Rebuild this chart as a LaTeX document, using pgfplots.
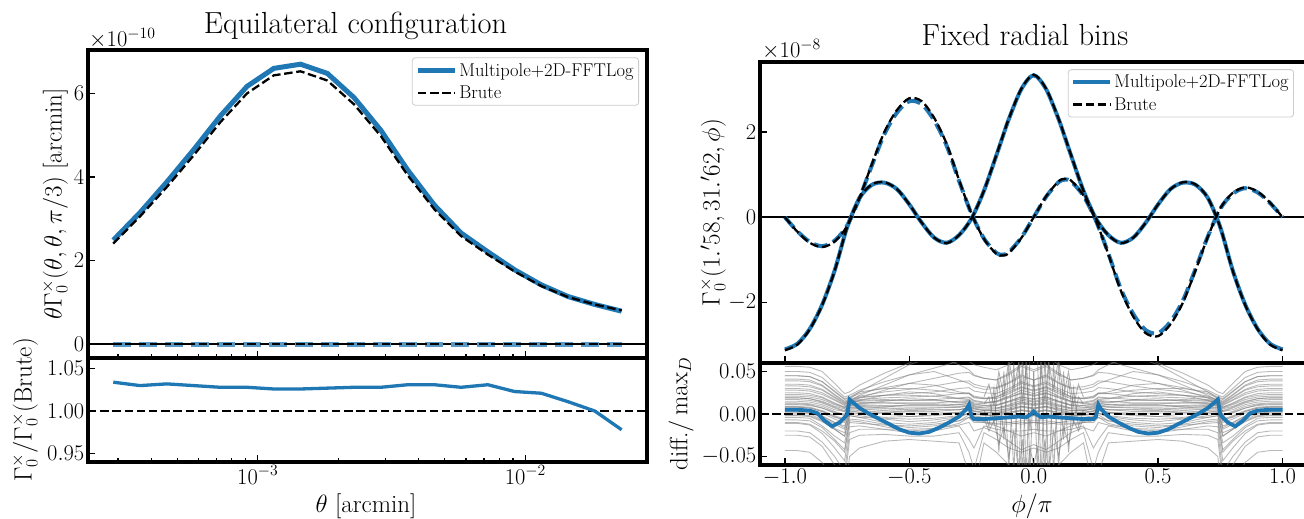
\RequirePackage{fix-cm}
\documentclass[border=0pt]{standalone}
\usepackage{pgfplots}
\usepackage{pgfplotstable}
\pgfplotsset{compat=1.18}
\definecolor{cB}{HTML}{1F77B4}
\newcommand{\tk}{\fontsize{22.5}{26}\selectfont}
\newcommand{\lb}{\fontsize{25}{29}\selectfont}
\newcommand{\ttl}{\fontsize{30.5}{35}\selectfont}
\newcommand{\legfont}{\fontsize{18.5}{22}\selectfont}

% equilateral configuration (values in units of 1e-10)
\pgfplotstableread{
x m b r
2.884e-4 2.49 2.408 1.034
3.631e-4 3.15 3.058 1.030
4.571e-4 3.88 3.760 1.032
5.754e-4 4.65 4.515 1.030
7.244e-4 5.46 5.311 1.028
9.120e-4 6.17 6.002 1.028
1.148e-3 6.60 6.433 1.026
1.445e-3 6.70 6.530 1.026
1.820e-3 6.48 6.310 1.027
2.291e-3 5.90 5.739 1.028
2.884e-3 5.12 4.981 1.028
3.631e-3 4.17 4.045 1.031
4.571e-3 3.33 3.230 1.031
5.754e-3 2.66 2.588 1.028
7.244e-3 2.21 2.144 1.031
9.120e-3 1.78 1.740 1.023
1.148e-2 1.42 1.391 1.021
1.445e-2 1.14 1.128 1.011
1.820e-2 0.95 0.950 1.000
2.291e-2 0.79 0.808 0.978
}\eqdata

% fixed radial bins (values in units of 1e-8)
\pgfplotstableread{
phi re reb im imb
-1.00 -3.10 -3.12 0.00 0.00
-0.95 -2.97 -2.99 -0.33 -0.34
-0.90 -2.62 -2.63 -0.58 -0.60
-0.85 -2.05 -2.06 -0.68 -0.70
-0.80 -1.25 -1.26 -0.55 -0.57
-0.75 -0.24 -0.24 -0.20 -0.21
-0.70 0.45 0.45 0.45 0.46
-0.65 0.76 0.77 1.22 1.25
-0.60 0.81 0.82 1.95 2.00
-0.55 0.66 0.66 2.45 2.51
-0.50 0.30 0.30 2.72 2.79
-0.45 -0.13 -0.13 2.65 2.72
-0.40 -0.48 -0.48 2.27 2.33
-0.35 -0.60 -0.61 1.68 1.72
-0.30 -0.42 -0.42 0.85 0.87
-0.25 -0.03 -0.03 0.08 0.08
-0.20 0.62 0.62 -0.50 -0.51
-0.15 1.45 1.46 -0.84 -0.86
-0.125 1.88 1.89 -0.88 -0.90
-0.10 2.30 2.31 -0.82 -0.84
-0.05 3.00 3.01 -0.48 -0.49
0.00 3.33 3.34 0.00 0.00
0.05 3.00 3.01 0.48 0.49
0.10 2.30 2.31 0.82 0.84
0.125 1.88 1.89 0.88 0.90
0.15 1.45 1.46 0.84 0.86
0.20 0.62 0.62 0.50 0.51
0.25 -0.03 -0.03 -0.08 -0.08
0.30 -0.42 -0.42 -0.85 -0.87
0.35 -0.60 -0.61 -1.68 -1.72
0.40 -0.48 -0.48 -2.27 -2.33
0.45 -0.13 -0.13 -2.65 -2.72
0.50 0.30 0.30 -2.72 -2.79
0.55 0.66 0.66 -2.45 -2.51
0.60 0.81 0.82 -1.95 -2.00
0.65 0.76 0.77 -1.22 -1.25
0.70 0.45 0.45 -0.45 -0.46
0.75 -0.24 -0.24 0.20 0.21
0.80 -1.25 -1.26 0.55 0.57
0.85 -2.05 -2.06 0.68 0.70
0.90 -2.62 -2.63 0.58 0.60
0.95 -2.97 -2.99 0.33 0.34
1.00 -3.10 -3.12 0.00 0.00
}\rbdata

\pgfplotstableread{
phi d
-1.00 0.005
-0.95 0.005
-0.90 0.004
-0.87 0.001
-0.84 -0.008
-0.81 -0.0145
-0.78 -0.010
-0.76 -0.004
-0.75 -0.001
-0.74 0.017
-0.72 0.012
-0.70 0.007
-0.66 0.000
-0.62 -0.006
-0.58 -0.012
-0.54 -0.018
-0.50 -0.022
-0.46 -0.023
-0.42 -0.021
-0.38 -0.016
-0.34 -0.010
-0.30 -0.003
-0.27 0.006
-0.26 0.011
-0.25 -0.003
-0.24 -0.006
-0.20 -0.006
-0.15 -0.005
-0.10 -0.004
-0.06 -0.003
-0.03 -0.004
-0.01 0.000
0.00 0.003
0.01 0.000
0.03 -0.004
0.06 -0.003
0.10 -0.004
0.15 -0.005
0.20 -0.006
0.24 -0.006
0.25 -0.003
0.26 0.011
0.27 0.006
0.30 -0.003
0.34 -0.010
0.38 -0.016
0.42 -0.021
0.46 -0.023
0.50 -0.022
0.54 -0.018
0.58 -0.012
0.62 -0.006
0.66 0.000
0.70 0.007
0.72 0.012
0.74 0.017
0.75 -0.001
0.76 -0.004
0.78 -0.010
0.81 -0.0145
0.84 -0.008
0.87 0.001
0.90 0.004
0.95 0.005
1.00 0.005
}\dfdata

% individual bins, half range (mirrored when plotted)
\pgfplotstableread{
phi g1 g2 g3 g4 g5 g6 g7 g8 g9 g10 g11 g12 g13 g14 g15 g16 g17
-1.00 0.056 0.050 0.045 0.039 0.033 0.028 0.023 0.019 0.015 0.011 0.008 0.004 0.001 -0.004 -0.011 -0.025 -0.043
-0.95 0.056 0.050 0.045 0.039 0.033 0.028 0.023 0.019 0.015 0.011 0.008 0.004 0.001 -0.004 -0.011 -0.025 -0.043
-0.90 0.055 0.049 0.044 0.038 0.032 0.027 0.022 0.018 0.014 0.010 0.007 0.003 0.000 -0.005 -0.013 -0.027 -0.045
-0.85 0.050 0.043 0.038 0.033 0.028 0.023 0.019 0.015 0.011 0.007 0.003 -0.002 -0.007 -0.014 -0.023 -0.038 -0.057
-0.80 0.036 0.030 0.026 0.022 0.019 0.016 0.012 0.009 0.005 0.001 -0.004 -0.010 -0.017 -0.026 -0.040 -0.060 -0.080
-0.76 0.024 0.020 0.017 0.014 0.012 0.010 0.008 0.006 0.003 0.000 -0.006 -0.014 -0.022 -0.034 -0.055 -0.080 -0.100
-0.74 0.026 0.022 0.019 0.017 0.015 0.014 0.013 0.012 0.011 0.010 0.008 0.004 0.000 -0.006 -0.015 -0.030 -0.050
-0.70 0.034 0.028 0.024 0.021 0.019 0.017 0.015 0.013 0.011 0.009 0.006 0.002 -0.002 -0.007 -0.014 -0.025 -0.040
-0.60 0.048 0.038 0.031 0.026 0.022 0.019 0.016 0.013 0.010 0.007 0.004 0.000 -0.006 -0.012 -0.018 -0.024 -0.032
-0.50 0.060 0.046 0.036 0.029 0.024 0.020 0.016 0.013 0.010 0.006 0.003 -0.003 -0.009 -0.016 -0.022 -0.026 -0.030
-0.40 0.072 0.054 0.042 0.033 0.026 0.021 0.017 0.013 0.010 0.007 0.003 -0.002 -0.007 -0.014 -0.020 -0.026 -0.032
-0.30 0.085 0.062 0.048 0.038 0.030 0.024 0.019 0.015 0.011 0.008 0.005 0.001 -0.003 -0.008 -0.014 -0.022 -0.034
-0.26 0.082 0.062 0.049 0.039 0.031 0.025 0.020 0.016 0.013 0.010 0.007 0.004 0.001 -0.001 -0.030 -0.045 -0.070
-0.24 0.078 0.058 0.045 0.035 0.027 0.021 0.016 0.012 0.009 0.006 0.003 0.000 -0.003 -0.006 -0.040 -0.065 -0.090
-0.20 0.074 0.055 0.042 0.032 0.025 0.019 0.014 0.010 0.007 0.004 0.001 -0.002 -0.005 -0.009 -0.014 -0.022 -0.034
-0.15 0.070 0.052 0.040 0.031 0.024 0.018 0.014 0.010 0.007 0.004 0.001 -0.002 -0.006 -0.011 -0.018 -0.030 -0.045
-0.10 0.075 0.058 0.046 0.037 0.030 0.024 0.019 0.015 0.011 0.007 0.004 0.000 -0.004 -0.010 -0.020 -0.040 -0.060
-0.05 0.085 0.068 0.056 0.046 0.038 0.031 0.025 0.020 0.016 0.012 0.008 0.004 -0.001 -0.008 -0.020 -0.045 -0.070
0.00 0.080 0.062 0.050 0.040 0.033 0.027 0.022 0.018 0.014 0.010 0.006 0.002 -0.002 -0.008 -0.018 -0.040 -0.065
}\gdata

\pgfplotstableread{
phi g18 g19 g20 g21 g22 g23 g24 g25 g26 g27
-1.00 0.017 0.013 0.009 0.006 0.002 -0.001 -0.007 0.021 0.030 0.041
-0.95 0.017 0.013 0.009 0.006 0.002 -0.001 -0.007 0.021 0.030 0.041
-0.90 0.016 0.012 0.008 0.005 0.001 -0.002 -0.008 0.020 0.029 0.040
-0.85 0.013 0.009 0.004 0.001 -0.004 -0.008 -0.016 0.017 0.025 0.034
-0.80 0.007 0.003 -0.002 -0.006 -0.012 -0.018 -0.030 0.011 0.017 0.023
-0.76 0.003 -0.001 -0.006 -0.010 -0.018 -0.026 -0.042 0.007 0.011 0.015
-0.74 0.012 0.010 0.007 0.005 0.002 -0.002 -0.008 0.013 0.015 0.018
-0.70 0.016 0.012 0.008 0.004 0.000 -0.004 -0.009 0.019 0.022 0.026
-0.60 0.022 0.015 0.008 0.002 -0.004 -0.010 -0.015 0.028 0.034 0.042
-0.50 0.026 0.018 0.011 0.004 -0.003 -0.012 -0.020 0.036 0.046 0.058
-0.40 0.024 0.017 0.011 0.005 -0.001 -0.010 -0.018 0.034 0.050 0.068
-0.30 0.018 0.013 0.009 0.005 0.002 -0.004 -0.011 0.026 0.040 0.058
-0.26 0.017 0.014 0.011 0.008 0.005 0.001 -0.004 0.024 0.036 0.052
-0.24 0.013 0.010 0.007 0.004 0.001 -0.002 -0.008 0.020 0.032 0.046
-0.20 0.012 0.008 0.005 0.002 -0.001 -0.004 -0.010 0.018 0.029 0.042
-0.15 0.015 0.010 0.006 0.002 -0.001 -0.005 -0.012 0.020 0.030 0.040
-0.10 0.020 0.014 0.009 0.005 0.002 -0.002 -0.012 0.026 0.036 0.048
-0.05 0.024 0.018 0.013 0.009 0.005 0.001 -0.010 0.032 0.044 0.058
0.00 0.021 0.015 0.011 0.007 0.003 -0.001 -0.010 0.028 0.040 0.052
}\gdataB

\pgfplotstableread{
phi g28 g29 g30 g31 g32 g33 g34 g35 g36 g37
-1.00 0.045 0.035 0.025 0.019 0.012 0.008 0.003 -0.002 -0.010 -0.020
-0.95 0.045 0.035 0.025 0.019 0.012 0.008 0.003 -0.002 -0.010 -0.020
-0.90 0.044 0.034 0.024 0.018 0.011 0.007 0.002 -0.003 -0.012 -0.022
-0.85 0.038 0.029 0.020 0.014 0.007 0.003 -0.003 -0.009 -0.020 -0.033
-0.80 0.027 0.020 0.013 0.008 0.002 -0.003 -0.010 -0.018 -0.032 -0.050
-0.76 0.018 0.013 0.008 0.004 -0.002 -0.008 -0.016 -0.026 -0.045 -0.068
-0.74 0.020 0.016 0.013 0.011 0.009 0.006 0.003 -0.002 -0.010 -0.022
-0.70 0.026 0.020 0.016 0.013 0.010 0.006 0.002 -0.004 -0.011 -0.018
-0.60 0.030 0.022 0.017 0.013 0.009 0.006 0.002 -0.005 -0.013 -0.018
-0.50 0.030 0.022 0.016 0.012 0.008 0.005 0.001 -0.006 -0.014 -0.018
-0.40 0.028 0.021 0.016 0.012 0.008 0.005 0.001 -0.005 -0.012 -0.017
-0.30 0.024 0.018 0.014 0.011 0.008 0.005 0.002 -0.002 -0.008 -0.013
-0.26 0.024 0.019 0.015 0.012 0.009 0.007 0.004 0.001 -0.004 -0.010
-0.24 0.019 0.015 0.011 0.008 0.006 0.003 0.000 -0.004 -0.010 -0.020
-0.20 0.018 0.013 0.010 0.007 0.004 0.002 -0.001 -0.005 -0.010 -0.016
-0.15 0.020 0.015 0.011 0.007 0.004 0.001 -0.003 -0.008 -0.014 -0.022
-0.10 0.028 0.021 0.015 0.010 0.006 0.002 -0.003 -0.010 -0.020 -0.032
-0.05 0.036 0.028 0.020 0.014 0.009 0.004 -0.002 -0.012 -0.026 -0.042
0.00 0.032 0.024 0.017 0.012 0.007 0.003 -0.002 -0.010 -0.022 -0.036
}\gdataC

\pgfplotstableread{
p s1 s2 s3 s4
-0.200 0.012 0.005 0.020 -0.005
-0.180 0.020 -0.015 0.035 -0.020
-0.160 -0.010 0.030 0.010 -0.008
-0.140 0.040 -0.045 0.050 -0.035
-0.120 -0.030 0.050 0.020 -0.015
-0.100 0.060 -0.065 0.065 -0.050
-0.080 -0.070 0.060 0.030 -0.020
-0.060 0.070 -0.080 0.060 -0.070
-0.045 -0.080 0.075 0.015 -0.030
-0.030 0.080 -0.080 0.055 -0.080
-0.015 -0.070 0.070 -0.020 -0.040
0.000 0.050 0.060 0.040 -0.060
}\spdata

\pgfplotsset{
  panel/.style={scale only axis, axis line style={line width=3.2pt},
    every tick/.style={black, line width=1.3pt},
    major tick length=7pt, minor tick length=4pt,
    xtick pos=left, ytick pos=left, tick align=inside,
    scaled x ticks=false, scaled y ticks=false,
    tick label style={font=\tk, inner sep=3.5pt}},
  leg/.style={legend style={font=\legfont, draw=black!20, line width=0.8pt,
      rounded corners=3pt, fill=white, fill opacity=0.8, text opacity=1, draw opacity=1,
      inner xsep=3pt, inner ysep=3.5pt, row sep=4pt, cells={anchor=west}},
    legend image code/.code={\draw[##1] (0pt,0pt) -- (37pt,0pt);}},
  bdash/.style={black, line width=2.3pt, dash pattern=on 8.5pt off 3.7pt},
  gl/.style={gray, opacity=0.55, line width=0.9pt, forget plot},
  sl/.style={black!55, opacity=0.55, line width=0.9pt, forget plot},
  twodec/.style={yticklabel style={/pgf/number format/fixed, /pgf/number format/fixed zerofill, /pgf/number format/precision=2}},
}

\begin{document}
\begin{tikzpicture}

% left, top
\begin{axis}[panel, leg, at={(88pt,161pt)}, anchor=south west, width=559pt, height=308pt,
  xmode=log, xmin=2.32e-4, xmax=2.85e-2, ymin=-0.33, ymax=7.04,
  ytick={0,2,4,6}, xticklabels={},
  legend style={at={(0.9857,0.976)}, anchor=north east}]
\addplot[black, line width=1.5pt, forget plot] coordinates {(2.32e-4,0) (2.85e-2,0)};
\addplot[cB, line width=5pt] table[x=x, y=m] {\eqdata};
\addlegendentry{Multipole+2D-FFTLog}
\addplot[bdash] table[x=x, y=b] {\eqdata};
\addlegendentry{Brute}
\addplot[cB!75, line width=5pt, dash pattern=on 18pt off 8pt, forget plot] coordinates {(2.884e-4,0) (2.291e-2,0)};
\addplot[bdash, forget plot] coordinates {(2.884e-4,0) (2.291e-2,0)};
\end{axis}

% left, bottom
\begin{axis}[panel, twodec, at={(88pt,57pt)}, anchor=south west, width=559pt, height=104pt,
  xmode=log, xmin=2.32e-4, xmax=2.85e-2, ymin=0.94, ymax=1.0625,
  ytick={0.95,1,1.05}]
\addplot[bdash] coordinates {(2.32e-4,1) (2.85e-2,1)};
\addplot[cB, line width=3.3pt] table[x=x, y=r] {\eqdata};
\end{axis}

% right, top
\begin{axis}[panel, leg, at={(760pt,156pt)}, anchor=south west, width=547.4pt, height=301pt,
  xmin=-1.1, xmax=1.1, ymin=-3.42, ymax=3.64,
  xtick={-1,-0.5,0,0.5,1}, xticklabels={}, ytick={-2,0,2},
  legend style={at={(0.9755,0.976)}, anchor=north east}]
\addplot[black, line width=1.5pt, forget plot] coordinates {(-1.1,0) (1.1,0)};
\addplot[cB, line width=4pt, smooth] table[x=phi, y=re] {\rbdata};
\addlegendentry{Multipole+2D-FFTLog}
\addplot[cB, line width=4pt, dash pattern=on 14pt off 6pt, smooth, forget plot] table[x=phi, y=im] {\rbdata};
\addplot[bdash, smooth] table[x=phi, y=reb] {\rbdata};
\addlegendentry{Brute}
\addplot[bdash, smooth, forget plot] table[x=phi, y=imb] {\rbdata};
\end{axis}

% right, bottom
\begin{axis}[panel, twodec, at={(760pt,54pt)}, anchor=south west, width=547.4pt, height=102pt,
  xmin=-1.1, xmax=1.1, ymin=-0.06, ymax=0.06,
  xtick={-1,-0.5,0,0.5,1}, ytick={-0.05,0,0.05},
  xticklabel style={/pgf/number format/fixed, /pgf/number format/fixed zerofill, /pgf/number format/precision=1}]
\pgfplotsinvokeforeach{1,...,17}{
  \addplot[gl] table[x=phi, y=g#1] {\gdata};
  \addplot[gl] table[x expr=-\thisrow{phi}, y=g#1] {\gdata};
}
\pgfplotsinvokeforeach{18,...,27}{
  \addplot[gl] table[x=phi, y=g#1] {\gdataB};
  \addplot[gl] table[x expr=-\thisrow{phi}, y=g#1] {\gdataB};
}
\pgfplotsinvokeforeach{28,...,37}{
  \addplot[gl] table[x=phi, y=g#1] {\gdataC};
  \addplot[gl] table[x expr=-\thisrow{phi}, y=g#1] {\gdataC};
}
\pgfplotsinvokeforeach{1,...,4}{
  \addplot[sl] table[x=p, y=s#1] {\spdata};
  \addplot[sl] table[x expr=-\thisrow{p}, y=s#1] {\spdata};
}
\addplot[bdash] coordinates {(-1.1,0) (1.1,0)};
\addplot[cB, line width=3.8pt] table[x=phi, y=d] {\dfdata};
\end{axis}

\node[font=\ttl, anchor=base] at (355.5pt,485.7pt) {Equilateral configuration};
\node[font=\ttl, anchor=base] at (1025pt,473.5pt) {Fixed radial bins};
\node[font=\tk, anchor=base west, inner sep=0pt] at (89pt,472.5pt) {$\times10^{-10}$};
\node[font=\tk, anchor=base west, inner sep=0pt] at (762pt,461pt) {$\times10^{-8}$};
\node[font=\lb, rotate=90] at (55pt,315pt) {$\theta\Gamma_0^{\times}(\theta,\theta,\pi/3)$ [arcmin]};
\node[font=\lb, rotate=90] at (25pt,109pt) {$\Gamma_0^{\times}/\Gamma_0^{\times}$(Brute)};
\node[font=\lb, rotate=90] at (713pt,306.5pt) {$\Gamma_0^{\times}(1.'58, 31.'62, \phi)$};
\node[font=\lb, rotate=90] at (681pt,105pt) {diff.$/\max_D$};
\node[font=\lb] at (366pt,13pt) {$\theta$ [arcmin]};
\node[font=\lb] at (1032pt,13pt) {$\phi/\pi$};

\pgfresetboundingbox
\path[use as bounding box] (0,0) rectangle (1304pt,519pt);
\end{tikzpicture}
\end{document}
